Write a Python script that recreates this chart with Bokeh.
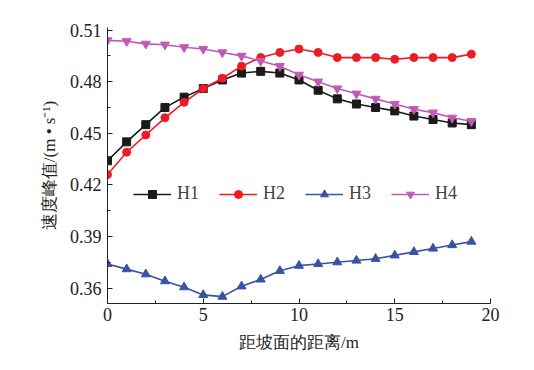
from bokeh.plotting import figure
from bokeh.models import FixedTicker, PrintfTickFormatter, Legend, LegendItem, Range1d
from bokeh.embed import file_html
from bokeh.resources import INLINE

x = list(range(20))
h1 = [0.434, 0.445, 0.455, 0.465, 0.471, 0.476, 0.481, 0.485, 0.486, 0.485,
      0.481, 0.475, 0.470, 0.467, 0.465, 0.463, 0.460, 0.458, 0.456, 0.455]
h2 = [0.426, 0.439, 0.449, 0.459, 0.468, 0.476, 0.482, 0.489, 0.494, 0.497,
      0.499, 0.497, 0.494, 0.494, 0.494, 0.493, 0.494, 0.494, 0.494, 0.496]
h3 = [0.374, 0.371, 0.368, 0.364, 0.3605, 0.356, 0.355, 0.361, 0.365, 0.370,
      0.373, 0.374, 0.375, 0.376, 0.377, 0.379, 0.381, 0.383, 0.385, 0.387]
h4 = [0.504, 0.5035, 0.502, 0.5015, 0.500, 0.499, 0.497, 0.495, 0.492, 0.489,
      0.484, 0.480, 0.476, 0.473, 0.470, 0.467, 0.464, 0.462, 0.459, 0.457]
names = ["H1", "H2", "H3", "H4"]
x_ticks = [0, 5, 10, 15, 20]
y_ticks = [0.36, 0.39, 0.42, 0.45, 0.48, 0.51]

FONT = "Liberation Serif"

p = figure(width=518, height=354, output_backend="svg", toolbar_location=None,
           x_range=Range1d(0, 20), y_range=Range1d(0.351, 0.5115),
           min_border_left=107, min_border_right=28, min_border_top=27, min_border_bottom=41)
p.outline_line_color = None
p.xgrid.visible = False
p.ygrid.visible = False

colors = ["#1a1a1a", "#ed1c24", "#3953a4", "#c05bb5"]
markers = ["square", "circle", "triangle", "inverted_triangle"]
sizes = [8, 8, 9, 9]
series = [h1, h2, h3, h4]
items = []
for name, ys, c, m, s in zip(names, series, colors, markers, sizes):
    r1 = p.line(x, ys, line_color=c, line_width=1.6)
    r2 = p.scatter(x, ys, marker=m, size=s, fill_color=c, line_color=c)
    items.append(LegendItem(label=name, renderers=[r1, r2]))

legend = Legend(items=items, orientation="horizontal", location=(22, 95),
                background_fill_alpha=0, border_line_alpha=0,
                label_text_font=FONT, label_text_font_size="18px",
                glyph_width=38, spacing=20, label_standoff=6, padding=4)
p.add_layout(legend, "center")

for ax in (p.xaxis[0], p.yaxis[0]):
    ax.major_tick_in = 5
    ax.major_tick_out = 0
    ax.minor_tick_in = 3
    ax.minor_tick_out = 0
    ax.axis_line_color = "#222222"
    ax.major_tick_line_color = "#222222"
    ax.minor_tick_line_color = "#222222"
    ax.major_label_text_font = FONT
    ax.major_label_text_font_size = "18px"
    ax.major_label_text_color = "#222222"
    ax.axis_label_text_font = FONT
    ax.axis_label_text_font_size = "17px"
    ax.axis_label_text_font_style = "normal"
    ax.axis_label_text_color = "#222222"

p.xaxis.ticker = FixedTicker(ticks=x_ticks, minor_ticks=[2.5, 7.5, 12.5, 17.5])
p.yaxis.ticker = FixedTicker(ticks=y_ticks, minor_ticks=[0.375, 0.405, 0.435, 0.465, 0.495])
p.yaxis.formatter = PrintfTickFormatter(format="%.2f")
p.xaxis.axis_label = "距坡面的距离/m"
p.yaxis.axis_label = "速度峰值/(m • s⁻¹)"
p.xaxis.major_label_standoff = 4
p.yaxis.major_label_standoff = 6
p.xaxis.axis_label_standoff = 9
p.yaxis.axis_label_standoff = 8

open("out.html", "w").write(file_html(p, INLINE))
